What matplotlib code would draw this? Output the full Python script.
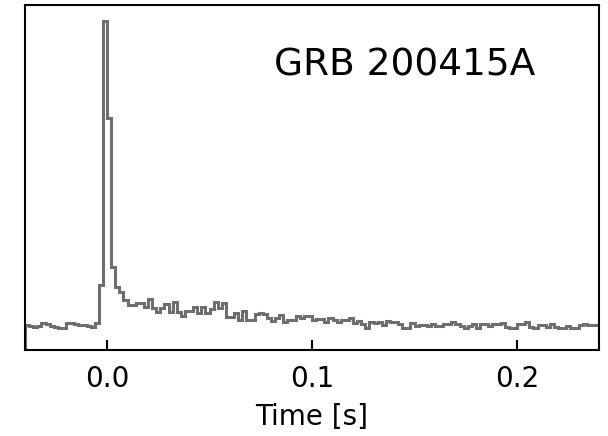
import numpy as np
import matplotlib
matplotlib.use("Agg")
import matplotlib.pyplot as plt

# Light curve: 2 ms bins from -0.040 s to 0.240 s (arbitrary count units)
bin_start = -0.04
bin_width = 0.002

pre_burst = [25, 24, 23, 24, 27, 26, 24, 23, 22, 22, 27, 27, 26, 25, 25, 24, 23, 27]
spike = [65, 329, 232]
tail_a = [83, 63, 58, 50, 45, 45, 47, 47, 43, 51, 42, 38, 42, 46, 38, 48, 38, 34,
          39, 39, 43, 37, 43, 37, 41]
tail_b = [48, 42, 47, 33, 33, 37, 30, 39, 30, 30, 36, 37, 36, 32, 29, 32, 35, 28,
          30, 30, 34]
tail_c = [32, 34, 34, 30, 31, 31, 28, 32, 30, 28, 30, 30, 32, 27, 29, 26, 22, 28,
          27, 28, 25, 29, 28, 28]
tail_d = [26, 22, 22, 27, 24, 25, 25, 24, 26, 24, 24, 26, 26, 28, 26, 24, 22, 24,
          26, 22, 26, 26, 24]
tail_e = [26, 26, 27, 23, 22, 22, 26, 26, 28, 23, 22, 25, 25, 23, 26, 23, 22, 22,
          24, 22, 22, 25, 26, 25, 25, 25]

counts = np.array(pre_burst + spike + tail_a + tail_b + tail_c + tail_d + tail_e, dtype=float)
edges = bin_start + bin_width * np.arange(len(counts) + 1)

xticks = [0.0, 0.1, 0.2]
xtick_labels = ["0.0", "0.1", "0.2"]

fig = plt.figure(figsize=(6.08, 4.36), dpi=100)
ax = fig.add_axes([25 / 608, 86 / 436, 574 / 608, 345 / 436])
ax.stairs(counts, edges, color="#6e6e6e", linewidth=2.2)

ax.set_xlim(-0.04, 0.24)
ax.set_ylim(0, 345)
ax.set_xticks(xticks)
ax.set_xticklabels(xtick_labels)
ax.set_yticks([])
ax.tick_params(axis="x", direction="in", length=7, width=1.5, labelsize=20, pad=11)
for s in ax.spines.values():
    s.set_linewidth(1.5)
ax.set_xlabel("Time [s]", fontsize=20, labelpad=7)
ax.text(0.662, 0.826, "GRB 200415A", transform=ax.transAxes, fontsize=27,
        ha="center", va="center")

fig.savefig("out.png", dpi=100)
